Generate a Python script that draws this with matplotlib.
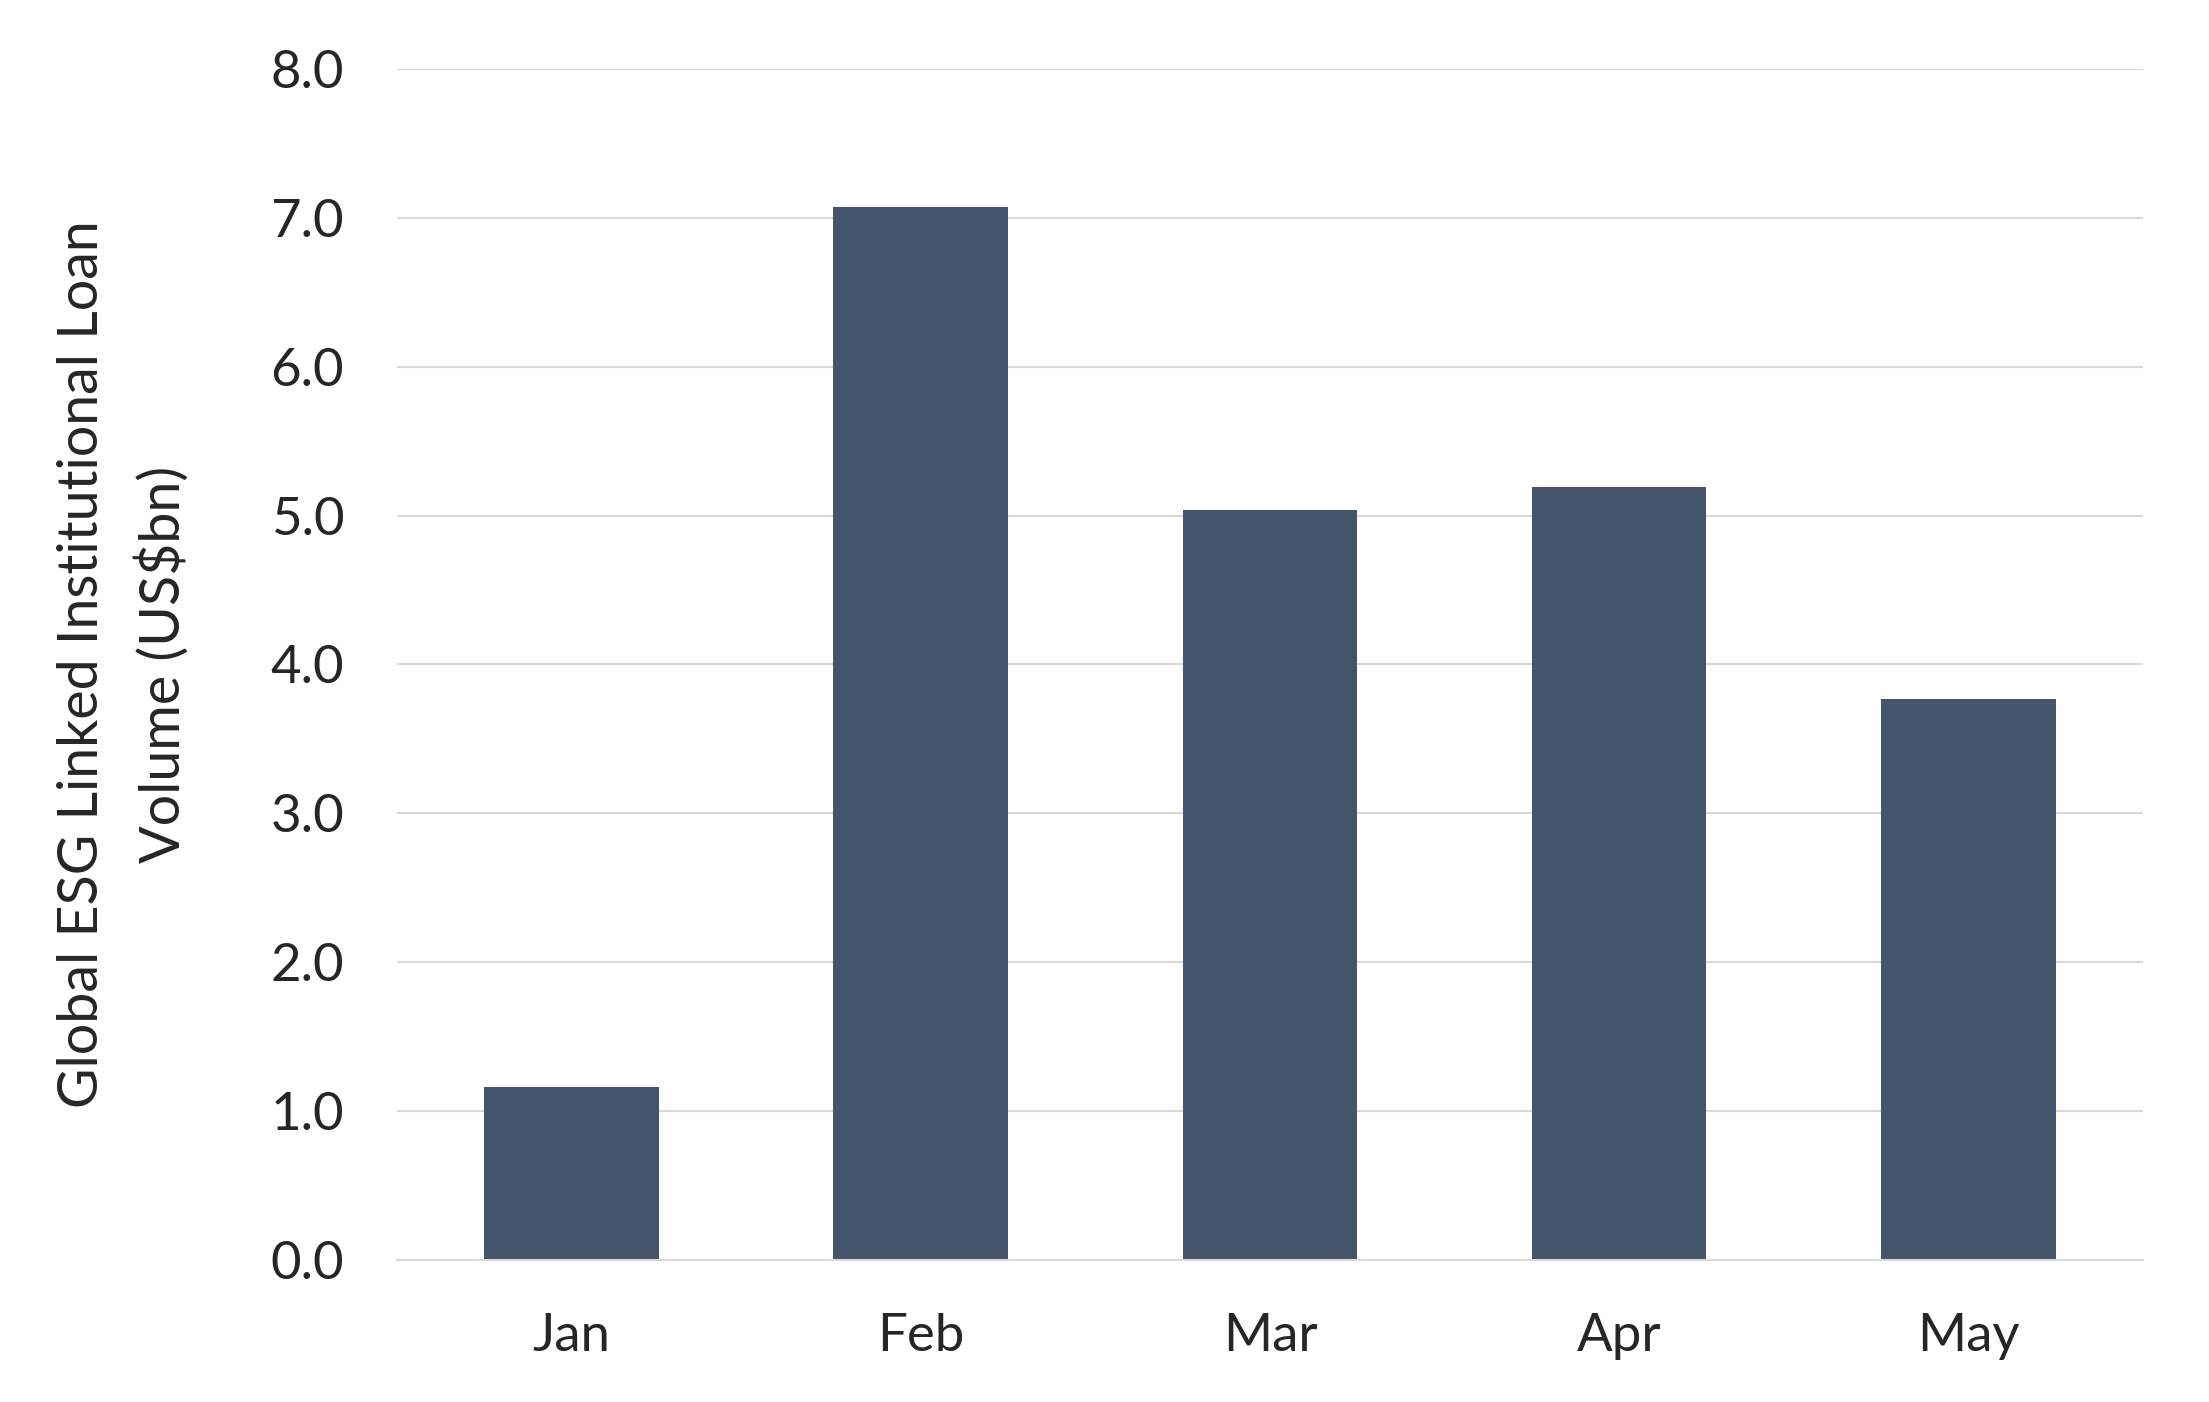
import numpy as np
import matplotlib
matplotlib.use("Agg")
import matplotlib.pyplot as plt

# ---- data ----
months = ["Jan", "Feb", "Mar", "Apr", "May"]
volume = [1.16, 7.07, 5.04, 5.19, 3.77]   # US$bn
yticks = [0.0, 1.0, 2.0, 3.0, 4.0, 5.0, 6.0, 7.0, 8.0]

plt.rcParams['font.family'] = ['Lato', 'DejaVu Sans']
text_col = '#262626'
bar_col = '#44546A'
grid_col = '#D9D9D9'

fig = plt.figure(figsize=(22.09, 14.02), dpi=100)
ax = fig.add_axes([0.1797, 0.1013, 0.7904, 0.8495])

x = np.arange(len(months))
ax.bar(x, volume, width=0.5, color=bar_col, zorder=3)

ax.set_xlim(-0.5, len(months) - 0.5)
ax.set_ylim(0, 8)
ax.set_yticks(yticks)
ax.set_yticklabels([f"{v:.1f}" for v in yticks])
ax.set_xticks(x)
ax.set_xticklabels(months)

ax.grid(axis='y', color=grid_col, linewidth=1.5, zorder=0)
for s in ['top', 'right', 'left']:
    ax.spines[s].set_visible(False)
ax.spines['bottom'].set_color(grid_col)
ax.spines['bottom'].set_linewidth(1.5)
ax.spines['bottom'].set_zorder(4)

ax.tick_params(axis='both', length=0, labelsize=38, colors=text_col)
ax.tick_params(axis='y', pad=38)
ax.tick_params(axis='x', pad=38)

ax.set_ylabel("Global ESG Linked Institutional Loan\nVolume (US\\$bn)",
              fontsize=40, color=text_col, labelpad=58, linespacing=1.6)

fig.savefig("out.png", dpi=100)
